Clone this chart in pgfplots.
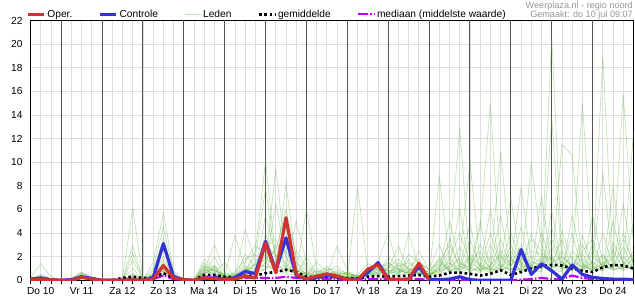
\documentclass[border=0pt]{standalone}
\usepackage{pgfplots}
\pgfplotsset{compat=1.18}
\usepackage{pgfplotstable}
\usepackage{fontspec}
\setmainfont{Liberation Sans}
\definecolor{oper}{RGB}{210,50,50}
\definecolor{ctrl}{RGB}{50,50,215}
\definecolor{leden}{RGB}{90,175,60}
\definecolor{ledenlg}{RGB}{190,225,175}
\definecolor{med}{RGB}{200,0,240}
\definecolor{gridl}{RGB}{221,221,221}
\definecolor{dayl}{RGB}{85,85,85}
\definecolor{wm}{RGB}{150,150,150}

\pgfplotstableread{
h m1 m2 m3 m4 m5 m6 m7 m8 m9 m10 m11 m12 m13 m14 m15 m16
6 0.2 0.1 0.1 0 0.1 0 0.1 0 0.1 0 0.1 0 0.1 0 0.1 0
12 1.4 0.5 0.4 0.3 0.2 0.1 0.2 0.1 0.2 0.1 0.2 0.3 0.1 0.2 0.3 0.1
18 0.3 0.1 0.1 0.1 0 0 0.1 0 0 0 0.1 0 0 0.1 0 0
24 0 0 0 0 0 0 0 0 0 0 0 0 0 0 0 0
30 0 0.1 0 0.1 0.2 0.1 0 0.1 0 0.1 0 0.1 0 0.1 0 0
36 0.3 0.2 0.4 0.3 0.7 0.6 0.5 0.4 0.3 0.5 0.2 0.4 0.3 0.6 0.2 0.3
42 0.1 0.1 0.2 0.1 0.2 0.3 0.2 0.1 0.2 0.1 0.1 0.2 0.1 0.2 0.1 0.2
48 0 0 0 0 0 0 0 0 0 0 0 0 0 0 0 0
54 0 0 0 0 0 0 0 0 0 0 0 0 0 0 0 0
60 0 0.2 0.1 0 0 0.1 0 0 0 0 0 0 0 0 0 0
66 0.3 6.1 2.9 2.3 1.7 1.0 0.6 0.4 0.2 0.3 0.1 0.2 0.1 0.5 0.2 0.1
72 0 0.2 0.1 0 0.1 0 0 0 0.1 0 0 0 0 0.1 0 0
78 0.4 0.3 0.2 0.5 0.3 0.2 0.4 1.5 1.0 0.8 0.6 0.5 0.4 0.3 0.2 0.3
84 1.7 0.8 1.0 0.6 0.9 0.7 1.2 5.7 4.5 3.5 2.6 2.0 1.5 1.2 1.0 0.8
90 0.5 0.2 0.3 0.1 0.2 0.4 0.2 0.8 0.6 0.5 0.4 0.3 0.2 0.3 0.2 0.1
96 0 0 0 0 0 0 0 0 0 0 0 0 0 0 0 0
102 0 0 0 0.1 0 0 0 0 0 0 0 0 0 0 0 0
108 0.6 0.4 0.8 1.8 1.5 0.7 1.1 0.9 0.5 1.3 0.6 1.0 0.8 0.7 1.2 0.5
114 0.9 0.5 3.0 1.0 0.8 1.3 0.6 0.5 1.2 0.7 2.0 0.4 0.9 0.6 0.8 1.1
120 0.2 0.1 0.6 0.2 0.4 0.3 0.1 0.2 0.4 0.2 0.3 0.1 0.3 1.5 0.5 0.2
126 0.3 0.2 0.5 0.3 3.8 0.4 0.2 0.6 0.3 0.2 0.5 0.1 0.7 0.2 0.4 0.3
132 0.8 1.2 0.6 4.3 1.0 0.9 2.2 0.5 1.5 0.7 1.0 0.4 1.8 0.3 0.9 0.6
138 1.5 0.9 2.5 1.6 0.7 2.0 1.1 0.8 3.0 1.3 0.6 0.9 2.2 0.5 1.0 1.4
144 2.0 3.0 10.1 2.5 1.5 7.8 1.2 5.5 2.0 1.8 1.0 2.8 1.5 4.0 0.8 1.2
150 1.0 2.1 1.8 1.2 9.5 1.5 6.5 2.0 1.0 2.5 1.4 3.5 0.8 1.1 3.0 0.9
156 1.2 1.0 1.5 0.9 2.0 0.8 1.8 3.0 8.2 6.0 4.5 1.0 0.6 2.5 1.3 0.7
162 5.0 0.8 0.6 0.5 1.0 0.7 0.9 1.2 1.5 2.0 0.9 2.5 0.4 0.6 0.5 1.6
168 1.5 0.5 0.3 0.4 0.6 6.0 0.3 0.5 0.8 1.0 0.4 1.2 2.0 0.3 0.7 0.4
174 0.6 0.3 0.5 0.8 0.4 1.0 0.2 0.4 0.3 0.5 1.5 0.6 0.7 0.2 0.5 0.3
180 0.8 0.4 1.2 0.5 0.3 0.5 0.6 0.3 0.5 0.4 0.8 0.3 1.0 0.4 0.3 0.9
186 0.5 2.9 0.4 0.6 0.3 0.8 0.4 0.5 0.3 0.7 1.2 0.3 0.6 0.4 0.5 0.9
192 0.3 0.8 0.2 0.5 0.2 0.4 0.3 0.6 0.2 0.5 0.4 0.3 0.2 0.7 0.3 0.6
198 0.2 0.3 7.9 0.3 0.1 0.2 0.2 0.4 0.1 0.3 0.2 0.5 0.3 0.2 0.4 0.3
204 0.8 0.5 1.0 0.7 0.4 0.6 1.1 0.5 0.9 0.6 0.3 1.4 0.5 0.8 0.6 0.4
210 1.0 0.7 0.6 1.5 0.9 1.2 0.8 0.5 1.3 0.4 0.6 0.9 1.0 0.5 1.1 0.7
216 0.6 1.2 0.5 4.1 1.0 0.8 1.5 2.0 0.7 1.1 0.9 0.5 1.3 0.6 0.8 1.6
222 0.4 0.9 1.5 0.8 2.9 0.5 1.0 1.2 0.6 1.8 0.7 1.0 0.4 1.3 0.9 0.6
228 0.8 0.5 1.0 0.6 0.7 4.0 0.6 1.5 2.2 0.9 1.2 0.6 1.8 0.7 0.5 1.0
234 1.2 0.6 0.8 1.0 0.5 1.1 2.5 0.7 1.5 0.6 1.8 0.9 0.5 1.4 0.7 0.5
240 0.3 0.4 0.5 0.3 0.6 0.4 0.8 0.5 0.9 0.3 0.5 0.7 0.6 1.0 0.4 0.8
246 8.8 1.2 0.9 1.5 0.6 2.0 1.0 0.7 3.0 1.1 0.5 1.8 0.8 1.3 0.9 1.6
252 1.5 2.5 1.0 3.0 1.8 0.8 5.0 1.2 0.9 2.0 1.3 0.7 3.5 1.0 1.5 0.8
258 0.8 13.0 2.0 1.2 4.0 1.0 1.5 2.8 1.0 0.7 6.0 1.2 0.9 1.8 0.6 1.4
264 2.0 1.0 10.0 0.8 1.5 3.5 0.9 1.2 2.2 1.0 0.8 4.8 1.3 0.7 1.9 1.1
270 1.2 0.8 1.5 4.5 0.9 1.1 2.0 0.6 1.3 3.0 1.0 0.7 2.5 1.2 0.8 5.0
276 0.9 2.0 0.7 15.0 1.2 0.6 1.0 3.0 0.8 1.5 4.0 1.1 0.9 6.0 1.3 0.7
282 3.5 1.1 2.5 1.0 10.9 1.5 0.8 1.2 2.0 0.9 1.3 5.5 1.0 0.8 2.2 1.1
288 1.0 4.0 1.2 0.6 2.0 7.0 1.5 0.9 1.1 2.5 0.8 1.0 3.0 1.2 0.7 1.8
294 0.8 1.5 3.0 1.8 0.7 1.2 7.8 1.0 4.5 1.1 2.0 0.9 1.3 2.2 1.0 0.8
300 2.0 0.9 1.1 2.5 1.3 0.8 1.6 9.9 1.0 3.5 0.7 1.5 0.8 1.1 4.0 1.2
306 1.5 7.1 1.0 2.2 0.9 1.8 1.2 3.0 1.1 2.5 0.8 1.4 4.0 0.7 1.3 2.0
312 20.6 1.2 13.7 1.0 3.5 0.8 2.0 1.1 4.5 1.3 2.8 0.9 1.5 6.0 1.0 1.8
318 2.0 0.8 1.5 11.5 1.2 2.5 0.9 1.6 1.0 3.5 1.2 0.7 2.0 1.1 4.2 0.9
324 1.2 2.5 0.9 10.6 1.5 1.0 4.0 0.8 1.3 0.9 2.0 5.5 1.1 0.8 1.6 1.2
330 0.9 1.5 3.0 1.2 15.0 1.3 0.8 2.2 0.9 1.8 1.0 1.4 0.7 3.8 1.1 2.5
336 3.0 0.9 1.2 0.8 2.0 0.9 1.5 1.0 5.5 1.0 1.7 0.8 2.5 1.2 0.9 3.5
342 1.1 4.0 0.8 2.0 1.2 19.1 1.0 1.4 1.5 0.8 9.0 1.2 1.0 2.2 1.5 0.9
348 2.5 1.2 5.0 1.0 0.9 1.5 2.0 0.9 1.2 8.0 1.3 1.0 3.2 0.9 1.8 1.1
354 1.0 2.0 1.3 3.5 1.1 0.8 15.8 1.2 2.8 1.0 0.9 6.5 1.5 1.0 4.0 1.4
360 1.8 1.0 0.9 1.5 2.5 1.2 3.0 12.5 1.0 1.4 2.0 1.1 0.8 5.0 1.3 2.2
}\members

\pgfplotstableread{
h oper
6 0.05
12 0.1
18 0.05
24 0
30 0
36 0.25
42 0.1
48 0
54 0
60 0
66 0
72 0
78 0.1
84 1.25
90 0.2
96 0.05
102 0
108 0.2
114 0.15
120 0.05
126 0.1
132 0.35
138 0.2
144 3.15
150 0.65
156 5.3
162 0.5
168 0.1
174 0.35
180 0.55
186 0.35
192 0.05
198 0
204 0.95
210 1.3
216 0.1
222 0.05
228 0.1
234 1.45
240 0.05
}\operdata

\pgfplotstableread{
h ctrl mean med
6 0.1 0.1 0.05
12 0.2 0.15 0.1
18 0.05 0.05 0
24 0 0 0
30 0.05 0.05 0
36 0.3 0.25 0.25
42 0.15 0.15 0.1
48 0 0 0
54 0 0 0
60 0 0.2 0
66 0 0.3 0.1
72 0 0.2 0
78 0.2 0.2 0.1
84 3.1 0.6 0.4
90 0.3 0.2 0.1
96 0.05 0 0
102 0 0 0
108 0.15 0.45 0.3
114 0.2 0.45 0.3
120 0.1 0.3 0.1
126 0.2 0.25 0.1
132 0.75 0.4 0.2
138 0.55 0.4 0.2
144 3.3 0.6 0.2
150 0.8 0.7 0.2
156 3.6 0.9 0.3
162 0.4 0.7 0.2
168 0.1 0.3 0.1
174 0.25 0.25 0.1
180 0.4 0.3 0.1
186 0.3 0.25 0.1
192 0.1 0.15 0
198 0.05 0.15 0
204 0.65 0.3 0.1
210 1.5 0.35 0.1
216 0.1 0.3 0.1
222 0.05 0.35 0.1
228 0.1 0.4 0.1
234 1.15 0.45 0.1
240 0.05 0.3 0.05
246 0.05 0.4 0.05
252 0.1 0.65 0.05
258 0.3 0.65 0.05
264 0.05 0.55 0.05
270 0 0.4 0
276 0 0.55 0
282 0 0.85 0
288 0 0.45 0
294 2.6 0.7 0.05
300 0.5 1.0 0.1
306 1.4 1.2 0.2
312 0.8 1.3 0.1
318 0.1 1.25 0.1
324 1.3 1.0 0.4
330 0.5 0.8 0.2
336 0.25 0.7 0.1
342 0.15 1.1 0.1
348 0.1 1.3 0.1
354 0.1 1.25 0.05
360 0.05 1.0 0.05
}\stats

\begin{document}
\begin{tikzpicture}
\path[use as bounding box] (-30.5pt,-19.7pt) rectangle (604.5pt,280.3pt);
\begin{axis}[
  scale only axis, width=603pt, height=259.8pt,
  at={(0pt,0pt)}, anchor=south west,
  xmin=6, xmax=360, ymin=0, ymax=22,
  ytick={0,2,...,22},
  xtick={12,36,...,348},
  xticklabels={Do 10,Vr 11,Za 12,Zo 13,Ma 14,Di 15,Wo 16,Do 17,Vr 18,Za 19,Zo 20,Ma 21,Di 22,Wo 23,Do 24},
  minor xtick={6,12,...,360},
  extra x ticks={24,48,...,336},
  extra x tick labels={},
  extra x tick style={grid=major, major grid style={dayl, line width=1pt}},
  grid=both,
  major grid style={gridl, line width=0.8pt},
  minor grid style={gridl, line width=0.8pt},
  xtick pos=bottom, ytick pos=left,
  tick align=outside,
  major tick length=4pt, minor tick length=4pt,
  xtick style={black, line width=0.6pt},
  ytick style={draw=none},
  axis line style={black, line width=0.9pt},
  ticklabel style={font=\fontsize{10.2}{12}\selectfont},
  /pgf/number format/assume math mode=true,
  yticklabel style={xshift=-0.5pt},
  xticklabel style={yshift=1pt, text height=7.5pt, text depth=0pt},
  legend style={at={(rel axis cs:0,1)}, anchor=south west, xshift=-4pt, yshift=0pt,
    draw=none, fill=none, legend columns=5, inner sep=0pt,
    font=\fontsize{10.2}{12}\selectfont,
    nodes={inner sep=1.5pt},
    /tikz/every even column/.append style={column sep=25pt}},
  legend image code/.code={\draw[#1] (0pt,0pt) -- (16pt,0pt);},
]
\addlegendimage{oper, line width=3.2pt}
\addlegendentry{Oper.}
\addlegendimage{ctrl, line width=3.2pt}
\addlegendentry{Controle}
\addlegendimage{ledenlg, line width=1pt}
\addlegendentry{Leden}
\addlegendimage{black, line width=2.6pt, dash pattern=on 2.6pt off 2.6pt}
\addlegendentry{gemiddelde}
\addlegendimage{med, line width=2.2pt, dash pattern=on 10pt off 2pt on 1.5pt off 2pt}
\addlegendentry{mediaan (middelste waarde)}

\pgfplotsinvokeforeach{1,...,16}{
  \addplot[leden, opacity=0.38, line width=0.65pt, forget plot] table[x=h, y=m#1] {\members};
}
\addplot[med, line width=2.2pt, dash pattern=on 10pt off 2pt on 1.5pt off 2pt, forget plot] table[x=h, y=med] {\stats};
\addplot[black, line width=2.6pt, dash pattern=on 2.6pt off 2.6pt, forget plot] table[x=h, y=mean] {\stats};
\addplot[ctrl, line width=3.2pt, line join=round, forget plot] table[x=h, y=ctrl] {\stats};
\addplot[oper, line width=3.2pt, line join=round, forget plot] table[x=h, y=oper] {\operdata};
\end{axis}
\node[anchor=base east, text=wm, font=\fontsize{9.1}{10}\selectfont, inner sep=0pt] at (602.5pt,272pt) {Weerplaza.nl - regio noord};
\node[anchor=base east, text=wm, font=\fontsize{9.1}{10}\selectfont, inner sep=0pt] at (602.5pt,263pt) {Gemaakt: do 10 jul 09:07};
\end{tikzpicture}
\end{document}
